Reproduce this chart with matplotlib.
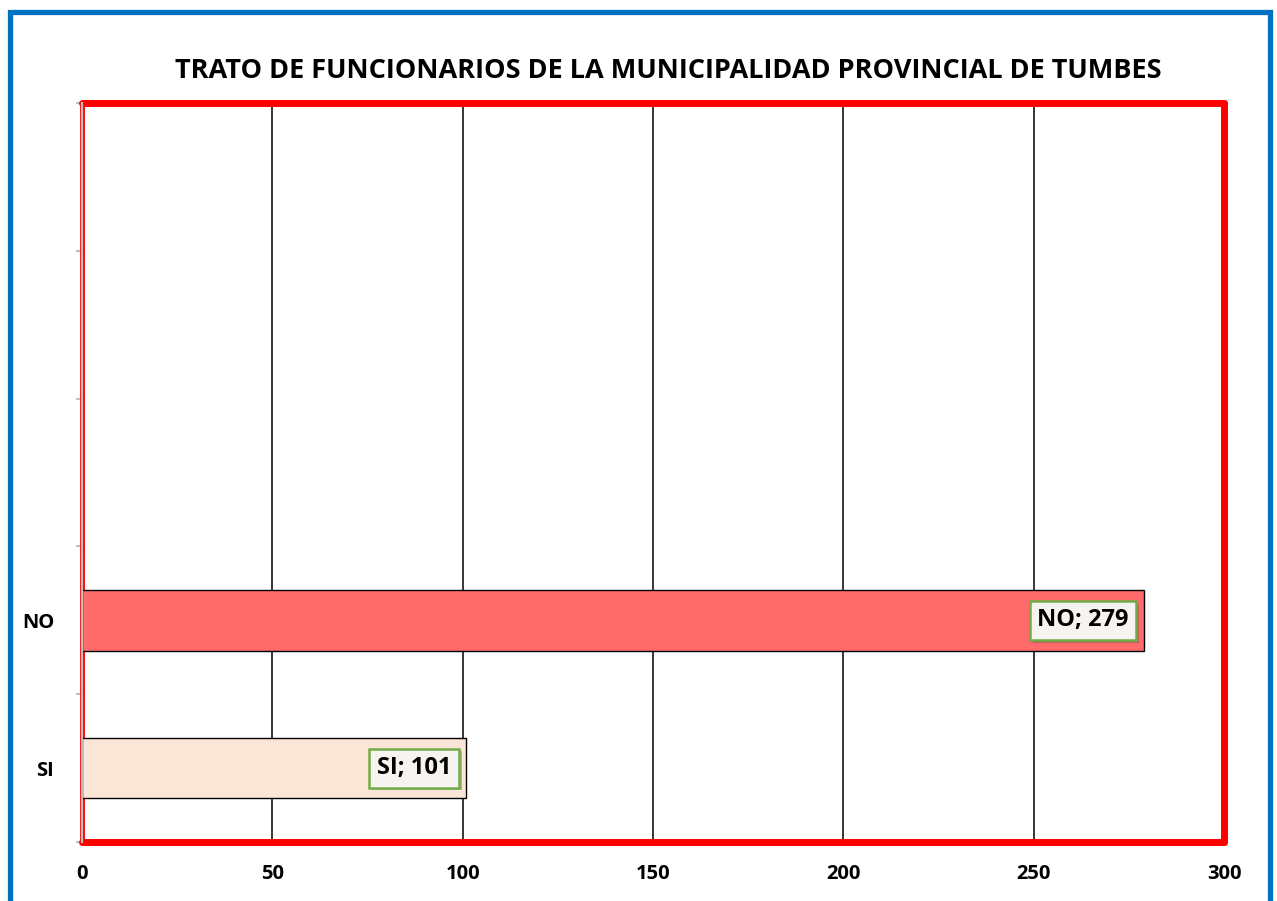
import numpy as np
import matplotlib
matplotlib.use('Agg')
import matplotlib.pyplot as plt
import matplotlib.patheffects as pe
from matplotlib.patches import Rectangle

plt.rcParams['font.family'] = ['Open Sans', 'DejaVu Sans']

# datos del gráfico
categorias = ['SI', 'NO']
valores = [101, 279]
colores = ['#FBE5D6', '#FF6B6B']
n_slots = 5  # el eje tiene 5 posiciones, solo 2 con datos
x_ticks = [0, 50, 100, 150, 200, 250, 300]
titulo = 'TRATO DE FUNCIONARIOS DE LA MUNICIPALIDAD PROVINCIAL DE TUMBES'

W, H = 1277, 901
fig = plt.figure(figsize=(W / 100, H / 100), dpi=100)

# marco azul exterior
fig.patches.append(Rectangle((10 / W, -0.05), 1260 / W, 1.05 - 12 / H,
                             transform=fig.transFigure, fill=False,
                             edgecolor='#0070C0', linewidth=3.8, zorder=0))

ax = fig.add_axes([82 / W, 1 - 842 / H, (1224 - 82) / W, (842 - 103) / H])

y = np.arange(len(categorias))
bars = ax.barh(y, valores, height=0.41, color=colores, edgecolor='black',
               linewidth=1, zorder=3)

# etiquetas de datos con recuadro verde
for yi, cat, v in zip(y, categorias, valores):
    t = ax.annotate(f'{cat}; {v}', xy=(v, yi), xytext=(-11, 0),
                    textcoords='offset points', ha='right', va='center',
                    fontsize=17, fontweight='bold', zorder=5,
                    bbox=dict(boxstyle='square,pad=0.32', facecolor='#F7F3F0',
                              edgecolor='#70AD47', linewidth=1.8))
    t.get_bbox_patch().set_path_effects(
        [pe.SimplePatchShadow(offset=(2, -2), alpha=0.35), pe.Normal()])

ax.set_xlim(0, 300)
ax.set_ylim(-0.5, n_slots - 0.5)
ax.set_xticks(x_ticks)
ax.set_xticklabels([str(t) for t in x_ticks], fontsize=14.5, fontweight='bold')
ax.tick_params(axis='x', length=0, pad=16)
ax.set_yticks(y)
ax.set_yticklabels(categorias, fontsize=14.5, fontweight='bold')
ax.tick_params(axis='y', which='major', length=0, pad=20)
ax.set_yticks(np.arange(-0.5, n_slots, 1), minor=True)
ax.tick_params(axis='y', which='minor', length=4, width=1.5, color='#BFBFBF')

# líneas de cuadrícula verticales
for xv in x_ticks[1:-1]:
    ax.axvline(xv, color='black', linewidth=1.1, zorder=1)

for s in ax.spines.values():
    s.set_color('#FF0000')
    s.set_linewidth(5)
    s.set_capstyle('round')
    s.set_joinstyle('round')
ax.spines['left'].set_linewidth(3.5)
ax.axvline(0, color='#BFBFBF', linewidth=1.6, zorder=6, clip_on=False)

fig.text(668 / W, 1 - 71 / H, titulo, ha='center', va='center',
         fontsize=19.5, fontweight='bold')

fig.savefig('out.png', dpi=100)
